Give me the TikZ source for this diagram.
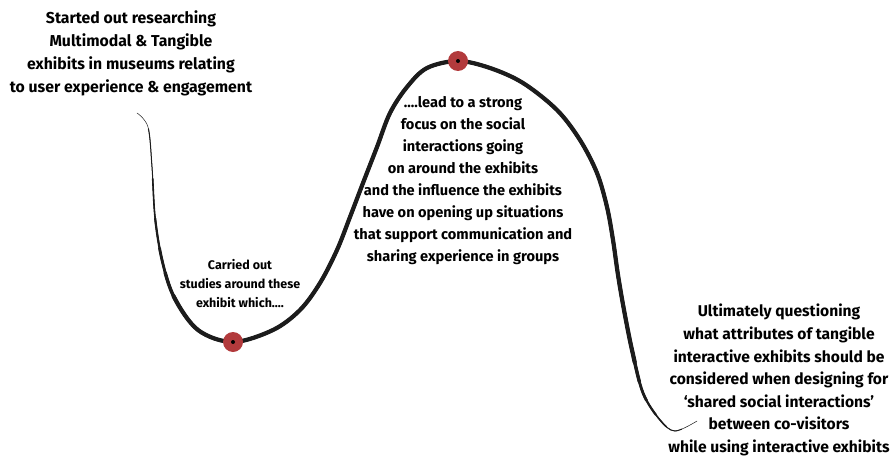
\documentclass[tikz,border=0pt]{standalone}
\usepackage{fontspec}
\setmainfont{Fira Sans}
\definecolor{dotred}{RGB}{178,58,60}
\definecolor{ink}{RGB}{28,28,28}
\newcommand\curveseg[3]{%
  \draw[ink, line width=#1pt, line cap=round, dash pattern=on #2pt off 10000pt, dash phase=#3pt]
    plot[smooth, tension=0.55] coordinates {
      (137,113) (148,127) (152,167) (155,217) (162,260) (174,297) (198,330)
      (233,342) (273,330) (300,310) (320,283) (337,250) (350,217) (363,183)
      (377,147) (390,113) (407,87) (427,68) (458,61) (490,68) (523,83)
      (557,110) (580,140) (597,173) (607,207) (613,240) (618,275) (624,310)
      (632,350) (643,393) (660,420) (675,431) (697,421)};}
\tikzset{
  dotnode/.style={circle, fill=dotred, minimum size=20pt, inner sep=0pt},
  pin/.style={circle, fill=black, minimum size=4pt, inner sep=0pt},
  txt/.style={align=center, text=black, inner sep=0pt}
}
\begin{document}
\begin{tikzpicture}[x=1pt, y=-1pt]
\useasboundingbox (0,0) rectangle (893,460);
% tapered curve built from layered strokes
\curveseg{0.5}{2000}{0}
\curveseg{1.0}{1105}{11085}
\curveseg{1.6}{1038}{10968}
\curveseg{2.2}{982}{10872}
\curveseg{2.8}{935}{10795}
\curveseg{3.4}{890}{10725}
\curveseg{4.2}{845}{10655}
% dots
\node[dotnode] (low) at (233,342) {};
\node[pin] (lowc) at (low.center) {};
\node[dotnode] (high) at (458,61) {};
\node[pin] (highc) at (high.center) {};
% texts
\node[txt, font=\fontsize{15.8}{23}\selectfont\bfseries] (t1) at (131,53)
  {Started out researching\\Multimodal \& Tangible\\exhibits in museums relating\\to user experience \& engagement};
\node[txt, font=\fontsize{12.5}{19}\selectfont\bfseries] (t2) at (240,284)
  {Carried out\\studies around these\\exhibit which....};
\node[txt, font=\fontsize{14.6}{22}\selectfont\bfseries] (t3) at (463,180.5)
  {....lead to a strong\\focus on the social\\interactions going\\on around the exhibits\\and the influence the exhibits\\have on opening up situations\\that support communication and\\sharing experience in groups};
\node[txt, font=\fontsize{15.6}{22.6}\selectfont\bfseries] (t4) at (779,380)
  {Ultimately questioning\\what attributes of tangible\\interactive exhibits should be\\considered when designing for\\‘shared social interactions’\\between co-visitors\\while using interactive exhibits};
\end{tikzpicture}
\end{document}
